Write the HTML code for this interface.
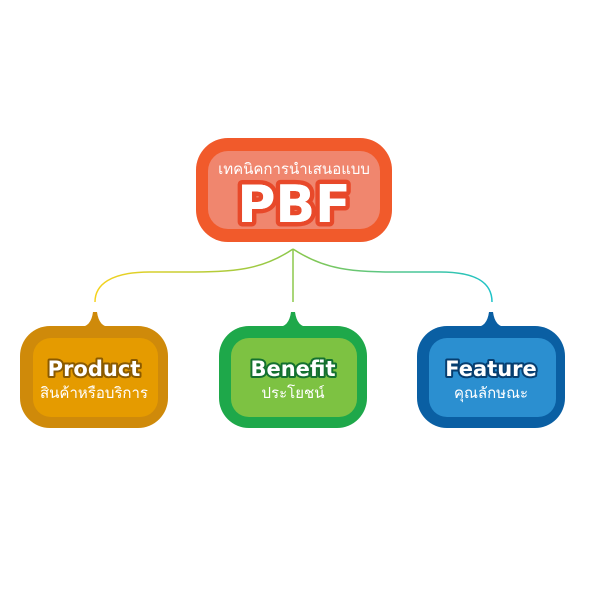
<!DOCTYPE html>
<html><head><meta charset="utf-8"><style>
html,body{margin:0;padding:0;background:#fff;}
svg{display:block;}
.th{font-family:"Liberation Sans","Noto Sans CJK SC",sans-serif;fill:#fff;text-anchor:middle;}
.en{font-family:"Liberation Sans",sans-serif;font-weight:bold;fill:#fff;text-anchor:middle;paint-order:stroke;stroke-linejoin:round;}
</style></head><body>
<svg width="600" height="600" viewBox="0 0 600 600" xmlns="http://www.w3.org/2000/svg">
<defs>
<linearGradient id="gl" x1="95" y1="0" x2="293" y2="0" gradientUnits="userSpaceOnUse">
<stop offset="0" stop-color="#F5D21E"/><stop offset="1" stop-color="#8CC84B"/></linearGradient>
<linearGradient id="gr" x1="293" y1="0" x2="492" y2="0" gradientUnits="userSpaceOnUse">
<stop offset="0" stop-color="#8CC84B"/><stop offset="1" stop-color="#1EC3C8"/></linearGradient>
</defs>
<path d="M293,249 C262,270 235,272 185,272 L150,272 C110,272 95,285 95,302" fill="none" stroke="url(#gl)" stroke-width="1.5"/>
<path d="M293,249 C325,270 352,272 400,272 L440,272 C480,272 492,285 492,302" fill="none" stroke="url(#gr)" stroke-width="1.5"/>
<line x1="293" y1="249" x2="293" y2="302" stroke="#8CC84B" stroke-width="1.5"/>
<rect x="196" y="138" width="196" height="104" rx="32" fill="#F15A2B"/>
<rect x="208" y="151" width="172" height="78" rx="20" fill="#F0866E"/>
<text x="294" y="174" class="th" font-size="15">เทคนิคการนำเสนอแบบ</text>
<text x="294" y="222" class="en" font-size="52" stroke="#E8492A" stroke-width="9" style="font-family:'DejaVu Sans',sans-serif">PBF</text>
<text x="294" y="222" font-size="52" font-weight="bold" fill="#fff" text-anchor="middle" style="font-family:'DejaVu Sans',sans-serif">PBF</text>
<path d="M80,327 Q91,327 93,312 L97,312 Q99,327 110,327Z" fill="#CF8A0A"/>
<rect x="20" y="326" width="148" height="102" rx="30" fill="#CF8A0A"/>
<rect x="33" y="338" width="125" height="79" rx="18" fill="#E59B00"/>
<text x="94" y="376" class="en" font-size="21" stroke="#8A5A00" stroke-width="4" style="font-family:'DejaVu Sans',sans-serif">Product</text>
<text x="94" y="398" class="th" font-size="15">สินค้าหรือบริการ</text>
<path d="M278,327 Q289,327 291,312 L295,312 Q297,327 308,327Z" fill="#1EA84A"/>
<rect x="219" y="326" width="148" height="102" rx="30" fill="#1EA84A"/>
<rect x="231" y="338" width="126" height="79" rx="18" fill="#7DC242"/>
<text x="293" y="376" class="en" font-size="21" stroke="#13702F" stroke-width="4" style="font-family:'DejaVu Sans',sans-serif">Benefit</text>
<text x="293" y="398" class="th" font-size="15">ประโยชน์</text>
<path d="M476,327 Q487,327 489,312 L493,312 Q495,327 506,327Z" fill="#0A5FA3"/>
<rect x="417" y="326" width="148" height="102" rx="30" fill="#0A5FA3"/>
<rect x="429" y="338" width="127" height="79" rx="18" fill="#2B8FD0"/>
<text x="491" y="376" class="en" font-size="21" stroke="#063E70" stroke-width="4" style="font-family:'DejaVu Sans',sans-serif">Feature</text>
<text x="491" y="398" class="th" font-size="15">คุณลักษณะ</text>
</svg>
</body></html>
